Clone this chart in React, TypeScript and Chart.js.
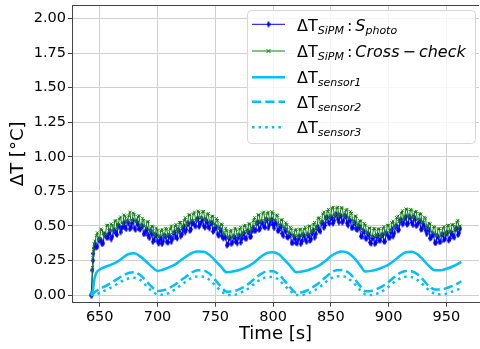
import React, { useEffect, useRef } from 'react';
import { Chart, registerables } from 'chart.js';

Chart.register(...registerables);

// ---------------- data ----------------
const X_TICKS = [650, 700, 750, 800, 850, 900, 950];
const Y_TICKS = [0, 0.25, 0.5, 0.75, 1.0, 1.25, 1.5, 1.75, 2.0];

// SiPM measurements: initial jump, then samples every second from 646 s to 962 s
const RISE_TIME = [642.6, 643.3, 643.7, 644.1, 644.6, 645.2];
const SPHOTO_RISE = [0, 0.0, 0.18, 0.25, 0.3, 0.34];
const CROSS_RISE = [0, 0.02, 0.2, 0.27, 0.33, 0.37];
const BODY_START = 646; // first even-second sample
const BODY_END = 962;

// S_photo: values at even seconds (646, 648, ... 962)
const SPHOTO_EVEN = [
  0.37, 0.35, 0.395, 0.37, 0.44, 0.415, 0.445, 0.405, 0.47, 0.445,
  0.505, 0.455, 0.495, 0.49, 0.533, 0.478, 0.522, 0.483, 0.532, 0.482,
  0.498, 0.442, 0.468, 0.432, 0.465, 0.385, 0.432, 0.388, 0.397, 0.37,
  0.43, 0.385, 0.425, 0.385, 0.445, 0.42, 0.475, 0.425, 0.475, 0.455,
  0.52, 0.465, 0.525, 0.505, 0.545, 0.495, 0.53, 0.5, 0.545, 0.495,
  0.52, 0.46, 0.49, 0.44, 0.48, 0.425, 0.425, 0.36, 0.41, 0.37,
  0.423, 0.388, 0.415, 0.38, 0.44, 0.41, 0.465, 0.42, 0.465, 0.465,
  0.522, 0.472, 0.522, 0.495, 0.545, 0.485, 0.538, 0.51, 0.527, 0.465,
  0.495, 0.445, 0.478, 0.42, 0.43, 0.378, 0.425, 0.377, 0.403, 0.37,
  0.435, 0.4, 0.435, 0.395, 0.445, 0.415, 0.488, 0.468, 0.52, 0.487,
  0.56, 0.525, 0.555, 0.518, 0.58, 0.55, 0.575, 0.525, 0.575, 0.52,
  0.538, 0.485, 0.522, 0.478, 0.503, 0.425, 0.46, 0.412, 0.445, 0.38,
  0.41, 0.37, 0.425, 0.395, 0.43, 0.387, 0.45, 0.415, 0.452, 0.425,
  0.495, 0.47, 0.538, 0.513, 0.555, 0.51, 0.57, 0.525, 0.565, 0.5,
  0.525, 0.475, 0.517, 0.468, 0.485, 0.41, 0.435, 0.378, 0.425, 0.385,
  0.438, 0.4, 0.445, 0.395, 0.45, 0.425, 0.48, 0.435, 0.48,
];
// S_photo: values at odd seconds (647, 649, ... 961)
const SPHOTO_ODD = [
  0.345, 0.403, 0.398, 0.375, 0.433, 0.417, 0.465, 0.423, 0.465, 0.437,
  0.497, 0.483, 0.523, 0.478, 0.52, 0.492, 0.538, 0.473, 0.51, 0.475,
  0.5, 0.445, 0.475, 0.413, 0.44, 0.4, 0.433, 0.373, 0.413, 0.39,
  0.423, 0.38, 0.421, 0.406, 0.455, 0.41, 0.46, 0.438, 0.498, 0.473,
  0.515, 0.475, 0.523, 0.498, 0.553, 0.513, 0.545, 0.488, 0.525, 0.483,
  0.523, 0.47, 0.491, 0.43, 0.462, 0.41, 0.415, 0.368, 0.415, 0.381,
  0.416, 0.375, 0.43, 0.408, 0.448, 0.408, 0.452, 0.423, 0.488, 0.468,
  0.525, 0.483, 0.523, 0.49, 0.542, 0.51, 0.546, 0.485, 0.515, 0.468,
  0.498, 0.428, 0.461, 0.418, 0.437, 0.377, 0.41, 0.375, 0.426, 0.388,
  0.428, 0.385, 0.428, 0.405, 0.468, 0.441, 0.492, 0.46, 0.523, 0.503,
  0.563, 0.518, 0.56, 0.538, 0.585, 0.527, 0.571, 0.538, 0.568, 0.505,
  0.538, 0.488, 0.523, 0.471, 0.488, 0.425, 0.46, 0.408, 0.435, 0.373,
  0.415, 0.38, 0.431, 0.396, 0.435, 0.388, 0.437, 0.415, 0.476, 0.448,
  0.5, 0.472, 0.543, 0.52, 0.566, 0.518, 0.558, 0.508, 0.55, 0.508,
  0.538, 0.478, 0.498, 0.442, 0.47, 0.415, 0.437, 0.378, 0.42, 0.386,
  0.438, 0.406, 0.451, 0.408, 0.445, 0.417, 0.48, 0.448,
];

// Cross-check: values at even seconds (646 ... 962)
const CROSS_EVEN = [
  0.39, 0.45, 0.41, 0.47, 0.43, 0.505, 0.465, 0.515, 0.465, 0.54,
  0.51, 0.565, 0.51, 0.57, 0.535, 0.6, 0.535, 0.585, 0.535, 0.575,
  0.5, 0.54, 0.485, 0.53, 0.465, 0.495, 0.43, 0.47, 0.43, 0.475,
  0.425, 0.475, 0.44, 0.5, 0.45, 0.51, 0.46, 0.525, 0.5, 0.56,
  0.515, 0.58, 0.54, 0.6, 0.54, 0.6, 0.56, 0.605, 0.54, 0.59,
  0.53, 0.57, 0.5, 0.54, 0.48, 0.51, 0.435, 0.465, 0.415, 0.47,
  0.425, 0.475, 0.425, 0.49, 0.45, 0.505, 0.46, 0.515, 0.48, 0.56,
  0.52, 0.58, 0.535, 0.6, 0.55, 0.6, 0.54, 0.59, 0.54, 0.575,
  0.505, 0.545, 0.48, 0.51, 0.44, 0.48, 0.43, 0.475, 0.42, 0.475,
  0.44, 0.49, 0.44, 0.5, 0.46, 0.525, 0.485, 0.56, 0.53, 0.6,
  0.555, 0.62, 0.575, 0.635, 0.575, 0.635, 0.585, 0.63, 0.57, 0.62,
  0.56, 0.59, 0.52, 0.57, 0.505, 0.535, 0.465, 0.505, 0.445, 0.485,
  0.425, 0.48, 0.43, 0.48, 0.43, 0.495, 0.45, 0.505, 0.465, 0.535,
  0.5, 0.57, 0.535, 0.61, 0.565, 0.62, 0.565, 0.615, 0.565, 0.605,
  0.54, 0.585, 0.525, 0.555, 0.48, 0.515, 0.45, 0.49, 0.43, 0.48,
  0.44, 0.495, 0.445, 0.505, 0.46, 0.51, 0.475, 0.54, 0.5,
];
// Cross-check: values at odd seconds (647 ... 961)
const CROSS_ODD = [
  0.43, 0.398, 0.478, 0.445, 0.44, 0.505, 0.465, 0.505, 0.535, 0.48,
  0.55, 0.52, 0.58, 0.523, 0.573, 0.54, 0.593, 0.528, 0.565, 0.505,
  0.555, 0.495, 0.53, 0.458, 0.498, 0.45, 0.485, 0.418, 0.465, 0.438,
  0.483, 0.433, 0.478, 0.438, 0.5, 0.47, 0.525, 0.483, 0.54, 0.503,
  0.58, 0.535, 0.588, 0.538, 0.608, 0.56, 0.603, 0.543, 0.583, 0.525,
  0.57, 0.515, 0.553, 0.478, 0.515, 0.45, 0.483, 0.418, 0.46, 0.413,
  0.483, 0.438, 0.478, 0.433, 0.5, 0.46, 0.515, 0.473, 0.538, 0.508,
  0.58, 0.535, 0.593, 0.538, 0.59, 0.545, 0.603, 0.54, 0.58, 0.508,
  0.543, 0.483, 0.523, 0.458, 0.49, 0.425, 0.468, 0.43, 0.478, 0.428,
  0.478, 0.433, 0.498, 0.455, 0.513, 0.473, 0.555, 0.52, 0.588, 0.548,
  0.605, 0.563, 0.628, 0.583, 0.63, 0.575, 0.633, 0.573, 0.613, 0.555,
  0.603, 0.538, 0.57, 0.503, 0.538, 0.478, 0.518, 0.453, 0.485, 0.423,
  0.48, 0.43, 0.478, 0.428, 0.483, 0.443, 0.505, 0.465, 0.523, 0.483,
  0.56, 0.53, 0.593, 0.55, 0.623, 0.573, 0.618, 0.558, 0.6, 0.545,
  0.59, 0.53, 0.563, 0.49, 0.52, 0.455, 0.495, 0.438, 0.48, 0.428,
  0.483, 0.443, 0.503, 0.458, 0.508, 0.465, 0.528, 0.488,
];

const SENSOR_TIME = [
  642.5, 644, 645.5, 647,
  650, 655, 660, 665, 670, 675, 680, 685, 690, 695,
  700, 705, 710, 715, 720, 725, 730, 735, 740, 745,
  750, 755, 760, 765, 770, 775, 780, 785, 790, 795,
  800, 805, 810, 815, 820, 825, 830, 835, 840, 845,
  850, 855, 860, 865, 870, 875, 880, 885, 890, 895,
  900, 905, 910, 915, 920, 925, 930, 935, 940, 945,
  950, 955, 960, 963,
];

const SENSOR1 = [
  0, 0.03, 0.12, 0.16,
  0.185, 0.205, 0.22, 0.24, 0.27, 0.297, 0.303, 0.28, 0.245, 0.205,
  0.175, 0.185, 0.2, 0.22, 0.25, 0.28, 0.305, 0.315, 0.313, 0.29,
  0.25, 0.205, 0.165, 0.17, 0.18, 0.195, 0.215, 0.245, 0.28, 0.305,
  0.31, 0.295, 0.255, 0.21, 0.165, 0.17, 0.18, 0.195, 0.215, 0.245,
  0.28, 0.305, 0.315, 0.305, 0.27, 0.22, 0.17, 0.175, 0.185, 0.2,
  0.22, 0.25, 0.285, 0.31, 0.313, 0.295, 0.255, 0.21, 0.18, 0.18,
  0.19, 0.205, 0.225, 0.24,
];

const SENSOR2 = [
  0, 0.005, 0.02, 0.03,
  0.045, 0.065, 0.09, 0.115, 0.14, 0.16, 0.165, 0.145, 0.105, 0.06,
  0.03, 0.035, 0.05, 0.075, 0.105, 0.135, 0.165, 0.18, 0.178, 0.155,
  0.11, 0.06, 0.025, 0.027, 0.04, 0.06, 0.09, 0.125, 0.155, 0.172,
  0.172, 0.15, 0.105, 0.055, 0.018, 0.02, 0.035, 0.06, 0.09, 0.125,
  0.16, 0.18, 0.182, 0.165, 0.125, 0.07, 0.028, 0.03, 0.045, 0.065,
  0.095, 0.13, 0.16, 0.175, 0.172, 0.15, 0.11, 0.065, 0.04, 0.04,
  0.05, 0.065, 0.085, 0.1,
];

const SENSOR3 = [
  0, 0, 0, 0.005,
  0.015, 0.035, 0.055, 0.08, 0.105, 0.12, 0.125, 0.11, 0.07, 0.03,
  0.005, 0.003, 0.015, 0.04, 0.07, 0.1, 0.125, 0.135, 0.133, 0.11,
  0.07, 0.03, 0.003, 0, 0.01, 0.03, 0.055, 0.09, 0.115, 0.13,
  0.13, 0.11, 0.07, 0.03, 0, 0, 0.01, 0.03, 0.055, 0.09,
  0.12, 0.135, 0.137, 0.12, 0.085, 0.04, 0.005, 0, 0.01, 0.03,
  0.06, 0.095, 0.12, 0.133, 0.13, 0.11, 0.075, 0.035, 0.01, 0.005,
  0.01, 0.025, 0.04, 0.05,
];

// ---------------- styling helpers ----------------
const FONT = "'DejaVu Sans', 'Liberation Sans', sans-serif";
const BLUE = '#0000ff';
const GREEN = '#0a800a';
const SKY = '#00bfff';

function makeDiamond(): HTMLCanvasElement {
  const c = document.createElement('canvas');
  c.width = 4;
  c.height = 7;
  const g = c.getContext('2d')!;
  g.fillStyle = BLUE;
  g.beginPath();
  g.moveTo(2, 0);
  g.lineTo(4, 3.5);
  g.lineTo(2, 7);
  g.lineTo(0, 3.5);
  g.closePath();
  g.fill();
  return c;
}

function noisyPoints(riseVals: number[], even: number[], odd: number[]) {
  const pts = RISE_TIME.map((t, i) => ({ x: t, y: riseVals[i] }));
  for (let t = BODY_START; t <= BODY_END; t++) {
    const k = Math.floor((t - BODY_START) / 2);
    const v = (t - BODY_START) % 2 === 0 ? even[k] : odd[k];
    pts.push({ x: t, y: v });
  }
  return pts;
}

function sensorPoints(vals: number[]) {
  return SENSOR_TIME.map((t, i) => ({ x: t, y: vals[i] }));
}

type Part = { t?: string; f?: string; dy?: number; gap?: number };

function drawParts(ctx: CanvasRenderingContext2D, x: number, base: number, parts: Part[]) {
  let cx = x;
  for (const p of parts) {
    if (p.gap) {
      cx += p.gap;
      continue;
    }
    ctx.font = p.f!;
    ctx.fillText(p.t!, cx, base + (p.dy || 0));
    cx += ctx.measureText(p.t!).width;
  }
}

export default function App() {
  const ref = useRef<HTMLCanvasElement>(null);

  useEffect(() => {
    document.body.style.margin = '0';
    document.body.style.overflow = 'hidden';
    const canvas = ref.current!;
    const diamond = makeDiamond();

    const MAIN = `16px ${FONT}`;
    const IT = `italic 16px ${FONT}`;
    const SUB = `italic 11px ${FONT}`;

    const legendPlugin = {
      id: 'mplLegend',
      afterDraw(chart: any) {
        const ctx: CanvasRenderingContext2D = chart.ctx;
        ctx.save();
        // top spine
        const a = chart.chartArea;
        ctx.strokeStyle = '#444';
        ctx.lineWidth = 1;
        ctx.beginPath();
        ctx.moveTo(a.left, a.top + 0.5);
        ctx.lineTo(a.right, a.top + 0.5);
        ctx.stroke();

        // legend frame
        const bx = 247.5, by = 10.5, bw = 228, bh = 133, r = 4;
        ctx.beginPath();
        ctx.moveTo(bx + r, by);
        ctx.lineTo(bx + bw - r, by);
        ctx.quadraticCurveTo(bx + bw, by, bx + bw, by + r);
        ctx.lineTo(bx + bw, by + bh - r);
        ctx.quadraticCurveTo(bx + bw, by + bh, bx + bw - r, by + bh);
        ctx.lineTo(bx + r, by + bh);
        ctx.quadraticCurveTo(bx, by + bh, bx, by + bh - r);
        ctx.lineTo(bx, by + r);
        ctx.quadraticCurveTo(bx, by, bx + r, by);
        ctx.closePath();
        ctx.fillStyle = 'rgba(255,255,255,0.8)';
        ctx.fill();
        ctx.strokeStyle = '#d6d6d6';
        ctx.stroke();

        const hx0 = 252, hx1 = 285, hmid = 268.5;
        const rows = [24.3, 51, 77.3, 101.7, 127.3];
        const bases = [30.7, 57.3, 83.3, 108.3, 133.3];

        // handles
        ctx.lineCap = 'butt';
        ctx.strokeStyle = BLUE;
        ctx.lineWidth = 1;
        ctx.beginPath();
        ctx.moveTo(hx0, rows[0]);
        ctx.lineTo(hx1, rows[0]);
        ctx.stroke();
        ctx.drawImage(diamond, hmid - 2, rows[0] - 3.5);
        ctx.strokeStyle = GREEN;
        ctx.beginPath();
        ctx.moveTo(hx0, rows[1]);
        ctx.lineTo(hx1, rows[1]);
        ctx.stroke();
        ctx.beginPath();
        ctx.moveTo(hmid - 2, rows[1] - 2);
        ctx.lineTo(hmid + 2, rows[1] + 2);
        ctx.moveTo(hmid - 2, rows[1] + 2);
        ctx.lineTo(hmid + 2, rows[1] - 2);
        ctx.stroke();
        const dashes = [[], [9.25, 4], [2.5, 4.1]];
        for (let k = 0; k < 3; k++) {
          ctx.strokeStyle = SKY;
          ctx.lineWidth = 2.5;
          ctx.setLineDash(dashes[k]);
          ctx.beginPath();
          ctx.moveTo(hx0, rows[2 + k]);
          ctx.lineTo(hx1, rows[2 + k]);
          ctx.stroke();
        }
        ctx.setLineDash([]);

        // labels
        ctx.fillStyle = '#000';
        ctx.textBaseline = 'alphabetic';
        ctx.textAlign = 'left';
        const tx = 297;
        drawParts(ctx, tx, bases[0], [
          { t: 'ΔT', f: MAIN }, { t: 'SiPM', f: SUB, dy: 3 }, { gap: 3 },
          { t: ':', f: MAIN }, { gap: 3 }, { t: 'S', f: IT }, { t: 'photo', f: SUB, dy: 3 },
        ]);
        drawParts(ctx, tx, bases[1], [
          { t: 'ΔT', f: MAIN }, { t: 'SiPM', f: SUB, dy: 3 }, { gap: 3 },
          { t: ':', f: MAIN }, { gap: 3 }, { t: 'Cross', f: IT }, { gap: 3 },
          { t: '−', f: MAIN }, { gap: 3 }, { t: 'check', f: IT },
        ]);
        ['sensor1', 'sensor2', 'sensor3'].forEach((s, k) => {
          drawParts(ctx, tx, bases[2 + k], [{ t: 'ΔT', f: MAIN }, { t: s, f: SUB, dy: 3 }]);
        });
        ctx.restore();
      },
    };

    const chart = new Chart(canvas, {
      type: 'line',
      data: {
        datasets: [
          {
            label: 'ΔT_SiPM : S_photo',
            data: noisyPoints(SPHOTO_RISE, SPHOTO_EVEN, SPHOTO_ODD),
            borderColor: BLUE,
            borderWidth: 1,
            pointStyle: diamond as any,
            pointRadius: 2,
            tension: 0,
            order: 5,
          },
          {
            label: 'ΔT_SiPM : Cross − check',
            data: noisyPoints(CROSS_RISE, CROSS_EVEN, CROSS_ODD),
            borderColor: GREEN,
            borderWidth: 1,
            pointStyle: 'crossRot',
            pointRadius: 2,
            pointBorderWidth: 1,
            pointBorderColor: GREEN,
            tension: 0,
            order: 4,
          },
          {
            label: 'ΔT_sensor1',
            data: sensorPoints(SENSOR1),
            borderColor: SKY,
            borderWidth: 2.5,
            pointRadius: 0,
            cubicInterpolationMode: 'monotone',
            order: 3,
          },
          {
            label: 'ΔT_sensor2',
            data: sensorPoints(SENSOR2),
            borderColor: SKY,
            borderWidth: 2.5,
            borderDash: [9.25, 4],
            pointRadius: 0,
            cubicInterpolationMode: 'monotone',
            order: 2,
          },
          {
            label: 'ΔT_sensor3',
            data: sensorPoints(SENSOR3),
            borderColor: SKY,
            borderWidth: 2.5,
            borderDash: [2.5, 4.1],
            pointRadius: 0,
            cubicInterpolationMode: 'monotone',
            order: 1,
          },
        ] as any,
      },
      options: {
        animation: false,
        responsive: false,
        devicePixelRatio: 1,
        events: [],
        layout: { padding: { top: 2, right: 1, left: 0, bottom: 0 } },
        plugins: { legend: { display: false }, tooltip: { enabled: false } },
        scales: {
          x: {
            type: 'linear',
            min: 626,
            max: 978.3,
            afterFit: (s: any) => {
              s.height = 46.3;
              s.paddingLeft = 0;
              s.paddingRight = 0;
            },
            afterBuildTicks: (s: any) => {
              s.ticks = X_TICKS.map((v) => ({ value: v }));
            },
            ticks: {
              autoSkip: false,
              maxRotation: 0,
              padding: 2,
              color: '#000',
              font: { family: FONT, size: 14.5 },
              callback: (v: any) => String(v),
            },
            grid: { color: '#d0d0d0', lineWidth: 1, tickLength: 4, tickColor: '#444', drawTicks: true },
            border: { display: true, color: '#444', width: 1 },
            title: {
              display: true,
              text: 'Time [s]',
              color: '#000',
              font: { family: FONT, size: 18 },
              padding: { top: 0, bottom: 4 },
            },
          },
          y: {
            type: 'linear',
            min: -0.055,
            max: 2.097,
            afterFit: (s: any) => {
              s.width = 72;
              s.paddingTop = 0;
              s.paddingBottom = 0;
            },
            afterBuildTicks: (s: any) => {
              s.ticks = Y_TICKS.map((v) => ({ value: v }));
            },
            ticks: {
              autoSkip: false,
              padding: 2,
              color: '#000',
              font: { family: FONT, size: 14.5 },
              callback: (v: any) => Number(v).toFixed(2),
            },
            grid: { color: '#d0d0d0', lineWidth: 1, tickLength: 4, tickColor: '#444', drawTicks: true },
            border: { display: true, color: '#444', width: 1 },
            title: {
              display: true,
              text: 'ΔT [°C]',
              color: '#000',
              font: { family: FONT, size: 18 },
              padding: { top: 8, bottom: 0 },
            },
          },
        },
      },
      plugins: [legendPlugin],
    } as any);

    return () => chart.destroy();
  }, []);

  return (
    <div style={{ width: 480, height: 349, overflow: 'hidden', position: 'relative' }}>
      <canvas ref={ref} width={484} height={349} style={{ display: 'block', width: 484, height: 349 }} />
    </div>
  );
}
